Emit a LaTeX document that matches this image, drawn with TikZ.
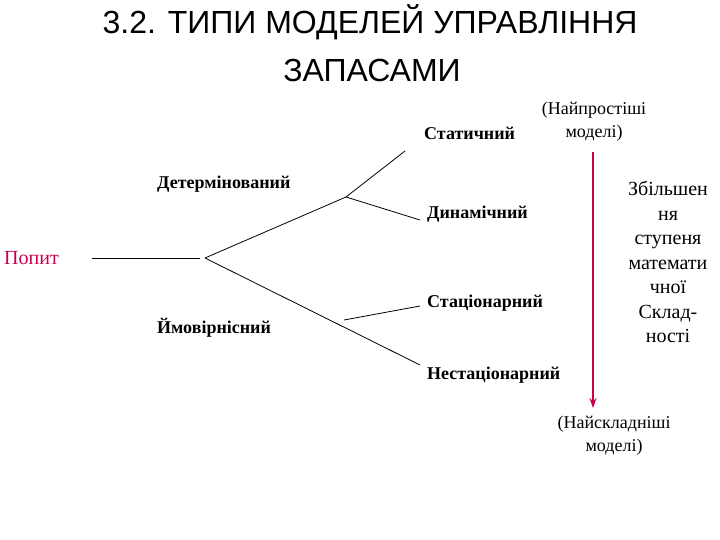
\documentclass[tikz,border=0pt]{standalone}
\usepackage{fontspec}
\usetikzlibrary{arrows.meta}
\setmainfont{Liberation Serif}
\newfontfamily\titlefont{Liberation Sans}
\definecolor{crim}{RGB}{200,0,80}
\begin{document}
\begin{tikzpicture}[x=1pt,y=-1pt,
  lbl/.style={anchor=west,inner sep=0pt,font=\fontsize{18}{20}\selectfont\bfseries},
  plain/.style={align=center,inner sep=0pt,font=\fontsize{18}{23}\selectfont},
  ln/.style={line width=0.8pt}]
\useasboundingbox (0,0) rectangle (720,540);
\node[inner sep=0pt,font=\titlefont\fontsize{32}{36}\selectfont] (t1) at (370,22) {3.2. ТИПИ МОДЕЛЕЙ УПРАВЛІННЯ};
\node[inner sep=0pt,font=\titlefont\fontsize{32}{36}\selectfont] (t2) at (372,70) {ЗАПАСАМИ};
\node[lbl] (st) at (424,133) {Статичний};
\node[lbl] (det) at (157,184) {Детермінований};
\node[lbl] (dyn) at (427,214) {Динамічний};
\node[lbl,font=\fontsize{20}{22}\selectfont,text=crim] (pop) at (4,258) {Попит};
\node[lbl] (stc) at (427,303) {Стаціонарний};
\node[lbl] (ymo) at (157,328) {Ймовірнісний};
\node[lbl] (nst) at (427,375) {Нестаціонарний};
\node[plain] (easy) at (594,122) {(Найпростіші\\ моделі)};
\node[plain] (hard) at (614,436) {(Найскладніші\\ моделі)};
\node[plain,font=\fontsize{20}{24.5}\selectfont] (incr) at (668,262) {Збільшен\\ня\\ступеня\\математи\\чної\\Склад-\\ності};
\coordinate (p0) at (92,258);
\coordinate (p1) at (200,258);
\coordinate (j) at (205,258);
\coordinate (ju) at (346,197);
\coordinate (stE) at (405,151);
\coordinate (dynE) at (420,220);
\coordinate (jl) at (344,320);
\coordinate (stcE) at (420,306);
\coordinate (nstE) at (420,365);
\coordinate (a0) at (593,152);
\coordinate (a1) at (593,408);
\draw[ln] (p0) -- (p1);
\draw[ln] (j) -- (ju) -- (stE);
\draw[ln] (ju) -- (dynE);
\draw[ln] (j) -- (nstE);
\draw[ln] (jl) -- (stcE);
\draw[crim,line width=1.5pt,-{Stealth[length=10pt,width=7pt]}] (a0) -- (a1);
\end{tikzpicture}
\end{document}
